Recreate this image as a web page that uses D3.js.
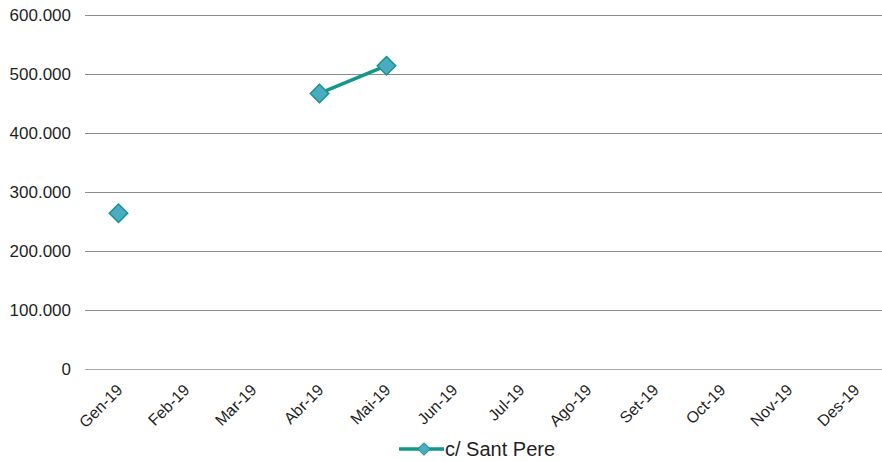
<!DOCTYPE html>
<html>
<head>
<meta charset="utf-8">
<script src="https://cdn.jsdelivr.net/npm/d3@7"></script>
<style>
body{margin:0;background:#fff;}
svg{display:block;font-family:"Liberation Sans",Arial,sans-serif;}
</style>
</head>
<body>
<svg id="chart"></svg>
<script>
var months=["Gen-19","Feb-19","Mar-19","Abr-19","Mai-19","Jun-19","Jul-19","Ago-19","Set-19","Oct-19","Nov-19","Des-19"];
var values=[264000,null,null,467000,514000,null,null,null,null,null,null,null];
var yTicks=[0,100000,200000,300000,400000,500000,600000];
var seriesName="c/ Sant Pere";

var width=882;
var height=462;
// plot edges (avoid "top", it is window.top)
var plotL=85, plotR=889, plotT=15, plotB=369;

var svg=d3.select("#chart")
.attr("width", width)
.attr("height", height);

var x=d3.scaleBand()
.domain(months)
.range([plotL, plotR]);

var y=d3.scaleLinear()
.domain([0,600000])
.range([plotB, plotT]);

var fmt=function(d){
  return d3.format(",")(d).replace(/,/g,".");
};

// gridlines
svg.append("g")
.selectAll("line")
.data(yTicks)
.enter()
.append("line")
.attr("x1", plotL)
.attr("x2", width)
.attr("y1", function(d){return Math.round(y(d))+0.5;})
.attr("y2", function(d){return Math.round(y(d))+0.5;})
.attr("stroke", function(d){return d==0 ? "#a6a6a6" : "#8c8c8c";})
.attr("stroke-width", 1);

// y axis labels
var yAxis=svg.append("g")
.attr("transform","translate("+(plotL-14)+",0)")
.call(d3.axisLeft(y).tickValues(yTicks).tickFormat(function(d){return d==0 ? "0" : fmt(d);}).tickSize(0));
yAxis.select(".domain").remove();
yAxis.selectAll("text")
.attr("font-size", 17)
.attr("font-family", "Liberation Sans, Arial, sans-serif")
.attr("fill", "#1f1f1f")
.attr("x", 0)
.attr("dy", "0.35em");

// x axis labels
var xAxis=svg.append("g")
.attr("transform","translate(0,"+plotB+")")
.call(d3.axisBottom(x).tickSize(0));
xAxis.select(".domain").remove();
xAxis.selectAll("text")
.attr("font-size", 16)
.attr("font-family", "Liberation Sans, Arial, sans-serif")
.attr("fill", "#1f1f1f")
.attr("text-anchor", "end")
.attr("x", 0)
.attr("y", 0)
.attr("dy", 0)
.attr("transform", "translate(5,22) rotate(-45)");

// line (breaks at missing months)
var line=d3.line()
.defined(function(d){return d!=null;})
.x(function(d,i){return x(months[i])+x.bandwidth()/2;})
.y(function(d){return y(d);});

svg.append("path")
.datum(values)
.attr("d", line)
.attr("fill", "none")
.attr("stroke", "#14968a")
.attr("stroke-width", 3.5);

var diamond=d3.symbol().type(d3.symbolSquare).size(170);

var pts=months.map(function(m,i){return {m:m, v:values[i]};}).filter(function(d){return d.v!=null;});

svg.append("g")
.selectAll("path")
.data(pts)
.enter()
.append("path")
.attr("d", diamond)
.attr("transform", function(d){
  return "translate("+(x(d.m)+x.bandwidth()/2)+","+y(d.v)+") rotate(45)";
})
.attr("fill", "#4aabc2")
.attr("stroke", "#14968a")
.attr("stroke-width", 1.5);

// legend
var lg=svg.append("g").attr("transform","translate(399,449)");
lg.append("line")
.attr("x1",0).attr("x2",45)
.attr("y1",0).attr("y2",0)
.attr("stroke","#14968a")
.attr("stroke-width",3.5);
lg.append("path")
.attr("d", d3.symbol().type(d3.symbolSquare).size(75))
.attr("transform","translate(25,0) rotate(45)")
.attr("fill","#4aabc2")
.attr("stroke","#14968a")
.attr("stroke-width",1);
lg.append("text")
.attr("x",46)
.attr("y",0)
.attr("dy","0.35em")
.attr("font-size",20)
.attr("fill","#1f1f1f")
.text(seriesName);
</script>
</body>
</html>
